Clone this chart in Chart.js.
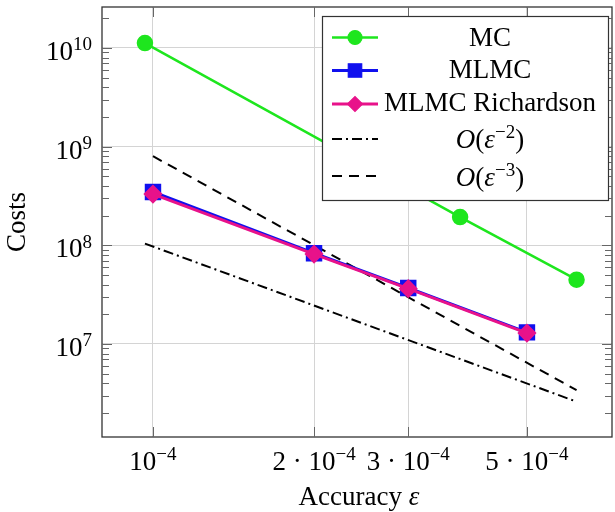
<!DOCTYPE html>
<html>
<head>
<meta charset="utf-8">
<title>Costs vs accuracy</title>
<script src="https://cdn.jsdelivr.net/npm/chart.js@4.4.1/dist/chart.umd.min.js"></script>
<style>
  html, body { margin: 0; padding: 0; background: #fff; }
</style>
</head>
<body>
<canvas id="costChart" width="615" height="512"></canvas>
<script>
// values
const mcAccuracy = [9.66e-5, 3.75e-4, 6.19e-4];
const mcCosts = [1.12e10, 1.93e8, 4.48e7];

const mlmcAccuracy = [1e-4, 2e-4, 3e-4, 5e-4];
const mlmcCosts = [3.47e8, 8.3e7, 3.69e7, 1.31e7];
const richardsonCosts = [3.3e8, 8.15e7, 3.63e7, 1.29e7];

// reference slopes
const ref2Accuracy = [9.66e-5, 6.19e-4];
const ref2Costs = [1.04e8, 2.6e6];
const ref3Accuracy = [1e-4, 6.19e-4];
const ref3Costs = [8.0e8, 3.4e6];

const seriesLabels = ['MC', 'MLMC', 'MLMC Richardson', 'O(ε^{−2})', 'O(ε^{−3})'];
const xTicks = [1e-4, 2e-4, 3e-4, 5e-4];
const xTickLabels = ['10^{−4}', '2 · 10^{−4}', '3 · 10^{−4}', '5 · 10^{−4}'];
const yTicks = [1e7, 1e8, 1e9, 1e10];
const yTickLabels = ['10^{7}', '10^{8}', '10^{9}', '10^{10}'];
const xTitle = 'Accuracy ε';
const yTitle = 'Costs';

const serif = "'Liberation Serif', 'Times New Roman', serif";
const FONT = 27;
const pts = (xs, ys) => xs.map((x, i) => ({ x: x, y: ys[i] }));

// split "a^{b}c" into runs, italic for chosen characters
function toRuns(str, italicChars) {
  const m = str.match(/^(.*)\^\{(.*)\}(.*)$/);
  const parts = m ? [{ t: m[1] }, { t: m[2], sup: true }, { t: m[3] }] : [{ t: str }];
  const runs = [];
  parts.forEach(p => {
    for (const ch of p.t) {
      const it = italicChars.includes(ch);
      const last = runs[runs.length - 1];
      if (last && last.sup === !!p.sup && last.it === it) last.t += ch;
      else runs.push({ t: ch, sup: !!p.sup, it: it });
    }
  });
  return runs;
}

function drawRuns(ctx, runs, x, base, align) {
  const font = r => (r.it ? 'italic ' : '') + (r.sup ? Math.round(FONT * 0.7) : FONT) + 'px ' + serif;
  let w = 0;
  runs.forEach(r => { ctx.font = font(r); r.w = ctx.measureText(r.t).width; w += r.w; });
  let cx = align === 'center' ? x - w / 2 : align === 'right' ? x - w : x;
  ctx.textAlign = 'left';
  ctx.textBaseline = 'alphabetic';
  runs.forEach(r => {
    ctx.font = font(r);
    ctx.fillText(r.t, cx, base - (r.sup ? FONT * 0.36 : 0));
    cx += r.w;
  });
}

function line(ctx, x1, y1, x2, y2) {
  ctx.beginPath();
  ctx.moveTo(x1, y1);
  ctx.lineTo(x2, y2);
  ctx.stroke();
}

const decorPlugin = {
  id: 'decor',
  afterDraw(chart) {
    const { ctx, chartArea: a } = chart;
    const x = chart.scales.x, y = chart.scales.y;
    ctx.save();

    // frame
    ctx.strokeStyle = '#333';
    ctx.lineWidth = 1.3;
    ctx.strokeRect(a.left, a.top, a.right - a.left, a.bottom - a.top);

    // y ticks, inside on both sides
    ctx.strokeStyle = '#666';
    ctx.lineWidth = 1;
    for (let e = 6; e <= 10; e++) {
      for (let m = 1; m <= 9; m++) {
        const v = m * Math.pow(10, e);
        if (v < y.min || v > y.max) continue;
        const py = Math.round(y.getPixelForValue(v)) + 0.5;
        const len = m === 1 ? 10 : 7;
        line(ctx, a.left, py, a.left + len, py);
        line(ctx, a.right, py, a.right - len, py);
      }
    }
    // x ticks top and bottom
    xTicks.forEach(v => {
      const px = Math.round(x.getPixelForValue(v)) + 0.5;
      line(ctx, px, a.top, px, a.top + 10);
      line(ctx, px, a.bottom, px, a.bottom - 10);
    });

    // tick labels
    ctx.fillStyle = '#000';
    yTicks.forEach((v, i) => {
      const py = y.getPixelForValue(v);
      drawRuns(ctx, toRuns(yTickLabels[i], ''), 92, py + 12, 'right');
    });
    xTicks.forEach((v, i) => {
      const px = x.getPixelForValue(v);
      drawRuns(ctx, toRuns(xTickLabels[i], ''), px, 470, 'center');
    });
    drawRuns(ctx, toRuns(xTitle, 'ε'), (a.left + a.right) / 2 + 2, 505, 'center');

    // legend
    const box = { left: 322.5, top: 16.5, right: 608.5, bottom: 200.5 };
    const rowY = [37.5, 70.5, 104, 139, 176];
    const textY = [45.5, 78, 111, 147.5, 185.5];
    ctx.fillStyle = '#fff';
    ctx.fillRect(box.left, box.top, box.right - box.left, box.bottom - box.top);
    ctx.strokeStyle = '#333';
    ctx.lineWidth = 1.2;
    ctx.strokeRect(box.left, box.top, box.right - box.left, box.bottom - box.top);

    chart.data.datasets.forEach((ds, i) => {
      const ly = rowY[i];
      ctx.save();
      ctx.strokeStyle = ds.borderColor;
      ctx.lineWidth = ds.borderWidth;
      ctx.setLineDash(ds.borderDash || []);
      line(ctx, 332, ly, 378, ly);
      ctx.restore();
      if (ds.pointRadius > 0) {
        ctx.save();
        ctx.fillStyle = ds.backgroundColor;
        ctx.strokeStyle = ds.borderColor;
        Chart.helpers.drawPoint(ctx, { pointStyle: ds.pointStyle, radius: ds.pointRadius, rotation: 0, borderWidth: 1 }, 355, ly);
        ctx.restore();
      }
      ctx.fillStyle = '#000';
      drawRuns(ctx, toRuns(ds.label, 'Oε'), 490, textY[i], 'center');
    });

    ctx.restore();
  }
};

const ctx = document.getElementById('costChart');

new Chart(ctx, {
  type: 'line',
  data: {
    datasets: [
      {
        label: seriesLabels[0],
        data: pts(mcAccuracy, mcCosts),
        borderColor: '#1ee61e',
        backgroundColor: '#1ee61e',
        borderWidth: 2.5,
        pointStyle: 'circle',
        pointRadius: 7,
        order: 2
      },
      {
        label: seriesLabels[1],
        data: pts(mlmcAccuracy, mlmcCosts),
        borderColor: '#1010ee',
        backgroundColor: '#1010ee',
        borderWidth: 3,
        pointStyle: 'rect',
        pointRadius: 9.5,
        order: 1
      },
      {
        label: seriesLabels[2],
        data: pts(mlmcAccuracy, richardsonCosts),
        borderColor: '#e8128a',
        backgroundColor: '#e8128a',
        borderWidth: 3,
        pointStyle: 'rectRot',
        pointRadius: 7.5,
        order: 0
      },
      {
        label: seriesLabels[3],
        data: pts(ref2Accuracy, ref2Costs),
        borderColor: '#000',
        borderWidth: 2,
        borderDash: [10, 4, 2, 4],
        pointRadius: 0,
        order: 3
      },
      {
        label: seriesLabels[4],
        data: pts(ref3Accuracy, ref3Costs),
        borderColor: '#000',
        borderWidth: 2,
        borderDash: [10, 7],
        pointRadius: 0,
        order: 4
      }
    ]
  },
  options: {
    responsive: false,
    animation: false,
    devicePixelRatio: 1,
    layout: { autoPadding: false, padding: { left: 0, right: 3, top: 7, bottom: 0 } },
    plugins: { legend: { display: false }, tooltip: { enabled: false } },
    scales: {
      x: {
        type: 'logarithmic',
        min: 8.03e-5,
        max: 7.21e-4,
        afterBuildTicks: s => { s.ticks = xTicks.map(v => ({ value: v })); },
        afterFit: s => { s.height = 75; },
        ticks: { display: false },
        grid: { color: '#d4d4d4', lineWidth: 1, drawTicks: false },
        border: { display: false }
      },
      y: {
        type: 'logarithmic',
        min: 1.14e6,
        max: 2.6e10,
        afterBuildTicks: s => { s.ticks = yTicks.map(v => ({ value: v })); },
        afterFit: s => { s.width = 102; },
        ticks: { display: false },
        grid: { color: '#d4d4d4', lineWidth: 1, drawTicks: false },
        border: { display: false },
        title: {
          display: true,
          text: yTitle,
          color: '#000',
          font: { family: serif, size: FONT },
          padding: { top: 2, bottom: 0 }
        }
      }
    }
  },
  plugins: [decorPlugin]
});
</script>
</body>
</html>
